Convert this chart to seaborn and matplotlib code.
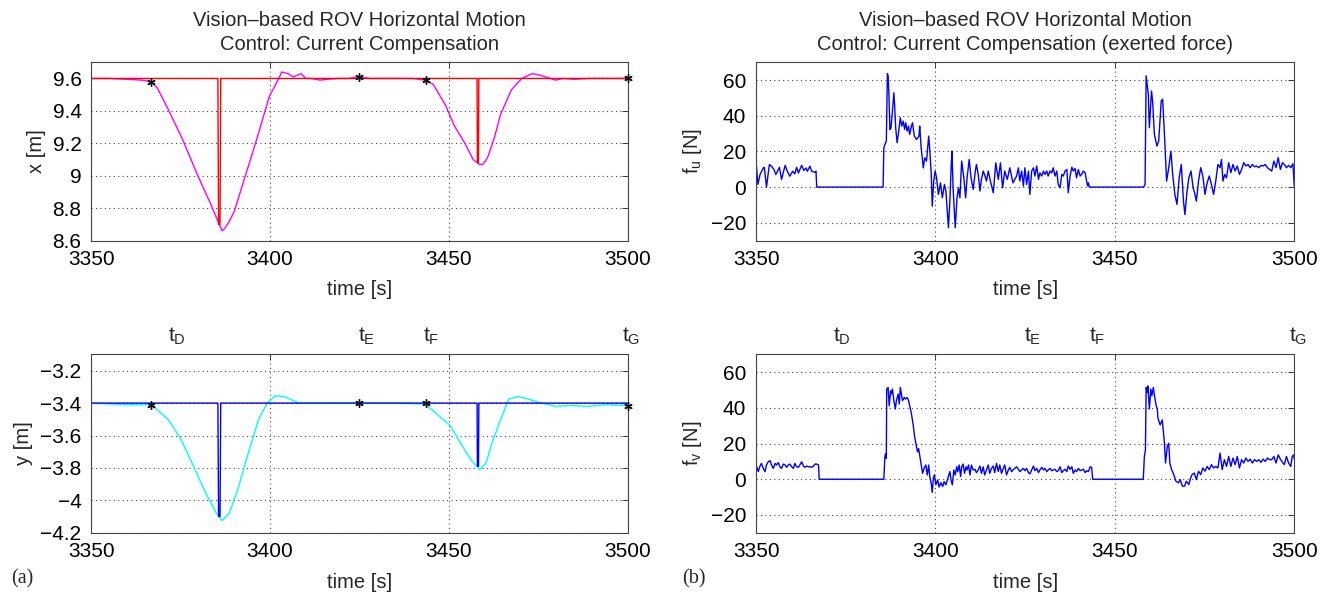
import matplotlib
matplotlib.use('Agg')
import matplotlib.pyplot as plt
import matplotlib.transforms as mtransforms
from matplotlib.ticker import FuncFormatter
import seaborn as sns

# ---- data ----
# event instants (black asterisks) and their top labels
event_t = [3366.8, 3425.0, 3443.5, 3500.0]
event_x = [9.58, 9.61, 9.59, 9.60]
event_y = [-3.41, -3.40, -3.40, -3.415]
label_t = [3374.0, 3427.0, 3445.0, 3501.0]
label_txt = ['t$_D$', 't$_E$', 't$_F$', 't$_G$']

# x position: measured (magenta) and desired (red)
xm_t = [3350, 3355, 3360, 3364, 3366.8, 3368.5, 3371.5, 3375.6, 3379.8, 3383.3, 3385.6, 3386.6,
        3387.5, 3388.6, 3390, 3392.1, 3396.2, 3399.8, 3401.5, 3403.3, 3405, 3406.5, 3408.7, 3410,
        3411.5, 3414, 3416, 3419, 3422, 3424.5, 3428, 3432, 3436, 3440, 3443.3, 3445.6, 3449.2,
        3451.5, 3454.5, 3456.8, 3458.6, 3459.5, 3460.2, 3461, 3462.8, 3464.5, 3467.5, 3470.4,
        3473.3, 3474.5, 3475.6, 3477, 3479.8, 3482, 3485, 3489, 3493, 3496, 3500]
xm_v = [9.6, 9.6, 9.595, 9.59, 9.58, 9.54, 9.41, 9.22, 9.0, 8.83, 8.71, 8.66,
        8.68, 8.72, 8.78, 8.93, 9.22, 9.49, 9.56, 9.64, 9.63, 9.61, 9.63, 9.6,
        9.6, 9.59, 9.595, 9.6, 9.6, 9.61, 9.6, 9.6, 9.6, 9.6, 9.59, 9.565, 9.43,
        9.31, 9.2, 9.1, 9.07, 9.07, 9.09, 9.12, 9.24, 9.38, 9.53, 9.6,
        9.63, 9.625, 9.62, 9.61, 9.59, 9.6, 9.595, 9.6, 9.6, 9.6, 9.6]
xd_t = [3350, 3385.4, 3385.6, 3386.0, 3386.2, 3457.9, 3458.0, 3458.3, 3458.4, 3500]
xd_v = [9.6, 9.6, 8.7, 8.7, 9.6, 9.6, 9.08, 9.08, 9.6, 9.6]

# y position: measured (cyan) and desired (blue)
ym_t = [3350, 3355, 3360, 3366.8, 3371.5, 3375, 3378.6, 3382.1, 3385, 3386.6, 3388.6, 3391,
        3393.9, 3396.8, 3399.2, 3401.5, 3403.9, 3405.6, 3408, 3415, 3425, 3435, 3443.3, 3446.8,
        3450.4, 3453.8, 3456.2, 3458.6, 3460.4, 3462.1, 3464.5, 3466.8, 3469.2, 3471.5, 3475,
        3479.8, 3484, 3489, 3494, 3500]
ym_v = [-3.4, -3.405, -3.41, -3.41, -3.5, -3.62, -3.79, -3.96, -4.08, -4.125, -4.08, -3.93,
        -3.71, -3.5, -3.4, -3.355, -3.36, -3.375, -3.4, -3.4, -3.4, -3.4, -3.405, -3.47,
        -3.54, -3.665, -3.75, -3.81, -3.77, -3.645, -3.5, -3.375, -3.36, -3.37, -3.395,
        -3.42, -3.415, -3.42, -3.41, -3.415]
yd_t = [3350, 3385.4, 3385.6, 3386.0, 3386.2, 3457.9, 3458.0, 3458.3, 3458.4, 3500]
yd_v = [-3.4, -3.4, -4.1, -4.1, -3.4, -3.4, -3.79, -3.79, -3.4, -3.4]

# exerted force f_u (time, N)
fu_pts = [
    (3350.0, 14.4), (3350.5, 1.5), (3351.1, 7.0), (3352.0, 10.7), (3352.3, 11.1), (3352.9, 0.0),
    (3353.7, 12.6), (3354.3, 11.7), (3355.0, 9.8), (3355.5, 7.0), (3356.5, 11.1), (3357.1, 4.3),
    (3358.1, 12.2), (3358.7, 8.9), (3359.4, 6.1), (3360.2, 8.9), (3360.8, 7.4), (3361.3, 11.1),
    (3361.8, 7.9), (3362.7, 12.2), (3363.3, 9.3), (3363.9, 10.7), (3364.3, 8.9), (3365.0, 11.7),
    (3365.5, 8.9), (3366.4, 8.3), (3366.7, 8.9), (3366.9, 0.0), (3385.4, 0.0),
    (3385.6, 22.1), (3386.1, 24.9), (3386.3, 25.8), (3386.6, 63.6), (3386.8, 62.2), (3387.0, 52.9),
    (3387.3, 32.3), (3387.6, 33.3), (3388.0, 42.6), (3388.4, 52.9), (3388.6, 46.4), (3388.9, 33.3),
    (3389.3, 24.9), (3389.7, 30.5), (3390.2, 38.9), (3390.6, 34.2), (3391.0, 37.0), (3391.4, 32.3),
    (3391.7, 36.1), (3392.1, 31.4), (3392.5, 34.2), (3392.8, 29.5), (3393.3, 34.2), (3393.6, 36.1),
    (3394.1, 28.6), (3394.7, 26.7), (3395.4, 28.6), (3395.6, 34.2), (3396.0, 22.1), (3396.6, 10.8),
    (3397.0, 16.4), (3397.5, 14.6), (3398.1, 28.6), (3398.4, 21.1), (3398.8, 8.0), (3399.1, -10.7),
    (3399.5, 3.4), (3399.9, 9.0), (3400.3, 5.2), (3400.8, -4.1), (3401.4, 2.4), (3401.9, -6.0),
    (3402.5, 1.5), (3402.9, -2.2), (3403.6, -22.8), (3404.0, -7.9), (3404.4, 12.7), (3404.6, 20.2),
    (3404.9, -0.4), (3405.5, -22.8), (3406.0, -6.0), (3406.4, -0.4), (3406.8, -6.0), (3407.3, 14.6),
    (3407.9, 5.2), (3408.4, -6.0), (3408.8, 5.2), (3409.4, 15.5), (3409.9, 5.2), (3410.5, -1.3),
    (3411.1, 9.0), (3411.4, 12.7), (3411.9, 7.1), (3412.4, -2.2), (3412.8, 4.3), (3413.3, 9.0),
    (3413.8, 6.2), (3414.2, 3.4), (3414.7, 9.0), (3415.3, 3.4), (3416.1, -3.2), (3416.8, 13.6),
    (3417.5, 4.3), (3418.1, 13.6), (3418.7, -0.4), (3419.3, 9.0), (3420.0, 4.3), (3420.7, 10.8),
    (3421.6, 2.4), (3422.6, 6.2), (3423.1, 10.8), (3423.5, 3.4), (3424.0, 9.0), (3424.5, 0.6),
    (3424.9, 10.8), (3425.4, 1.5), (3425.9, 9.0), (3426.3, -4.1), (3426.8, 9.0), (3427.3, 10.8),
    (3427.7, 6.2), (3428.2, 11.8), (3428.7, 4.3), (3429.1, 8.0), (3429.6, 6.2), (3430.1, 9.0),
    (3430.5, 7.1), (3431.0, 9.0), (3431.4, 6.2), (3431.9, 9.0), (3432.4, 8.0), (3432.8, 10.8),
    (3433.3, 6.2), (3433.8, 9.0), (3434.2, 1.5), (3434.7, -0.4), (3435.2, 7.1), (3435.6, 6.2),
    (3436.1, 9.0), (3436.6, 9.9), (3437.0, -3.2), (3437.5, 6.2), (3438.0, 11.2), (3438.4, 9.0),
    (3438.9, 10.5), (3439.3, 5.2), (3439.8, 9.9), (3440.3, 6.2), (3440.7, 7.1), (3441.2, 9.0),
    (3441.7, 8.0), (3442.1, 3.4), (3442.4, 0.6), (3442.6, 2.4), (3442.9, 0.0), (3458.0, 0.0),
    (3458.4, 1.5), (3458.7, 62.4), (3459.3, 52.1), (3459.6, 33.3), (3460.2, 53.9), (3460.5, 48.3),
    (3461.0, 29.6), (3461.7, 23.0), (3462.2, 25.8), (3462.9, 48.3), (3463.3, 49.3), (3463.8, 29.6),
    (3464.4, 3.4), (3465.0, 10.9), (3465.6, 20.2), (3466.1, 7.1), (3466.7, -4.1), (3467.3, -9.7),
    (3467.9, 5.2), (3468.5, 12.7), (3469.1, -7.9), (3469.5, -15.4), (3470.1, -2.2), (3470.6, 5.2),
    (3471.2, 9.0), (3471.8, -0.4), (3472.2, -3.2), (3472.7, -7.9), (3473.3, 3.4), (3473.9, 10.9),
    (3474.5, 6.2), (3475.1, -4.1), (3475.7, 2.4), (3476.3, 6.2), (3476.9, 1.5), (3477.5, -4.1),
    (3478.1, 3.4), (3478.7, 12.7), (3479.3, 10.9), (3479.7, 15.5), (3480.1, 3.4), (3480.6, 7.1),
    (3481.1, 5.2), (3481.7, 13.7), (3482.3, 8.1), (3482.9, 12.7), (3483.5, 9.0), (3484.1, 11.8),
    (3484.7, 7.1), (3485.3, 9.9), (3485.9, 13.7), (3486.5, 11.8), (3487.1, 12.7), (3487.7, 10.9),
    (3488.3, 12.7), (3488.9, 11.4), (3489.5, 11.8), (3490.1, 10.9), (3490.7, 12.2), (3491.3, 11.8),
    (3491.9, 12.7), (3492.5, 10.9), (3493.1, 9.9), (3493.7, 9.0), (3494.3, 14.6), (3494.9, 10.9),
    (3495.5, 16.5), (3496.1, 9.9), (3496.7, 13.7), (3497.2, 12.7), (3497.8, 10.9), (3498.4, 12.2),
    (3499.0, 10.9), (3499.6, 13.1), (3500.0, 0.0),
]

# exerted force f_v (time, N)
fv_pts = [
    (3350.2, 7.0), (3350.6, 4.3), (3351.1, 7.4), (3351.5, 8.9), (3352.0, 6.1), (3352.5, 4.3),
    (3352.9, 8.0), (3353.4, 9.8), (3353.9, 10.4), (3354.3, 8.0), (3354.8, 6.1), (3355.3, 8.9),
    (3355.7, 8.0), (3356.2, 9.3), (3356.7, 6.7), (3357.1, 6.1), (3357.6, 8.5), (3358.1, 8.0),
    (3358.5, 6.7), (3359.0, 8.0), (3359.4, 8.5), (3359.9, 7.0), (3360.4, 6.1), (3360.8, 8.9),
    (3361.3, 7.0), (3361.8, 6.7), (3362.2, 8.0), (3362.7, 9.8), (3363.2, 7.4), (3363.6, 6.7),
    (3364.1, 7.4), (3364.6, 7.0), (3365.0, 7.0), (3365.5, 6.7), (3366.0, 7.4), (3366.4, 8.5),
    (3366.9, 8.5), (3367.4, 8.0), (3367.6, 0.0), (3385.6, 0.0),
    (3385.9, 12.6), (3386.1, 14.4), (3386.3, 11.7), (3386.4, 50.6), (3386.8, 51.5), (3387.1, 41.3),
    (3387.5, 49.6), (3387.7, 47.8), (3388.0, 50.6), (3388.4, 44.1), (3388.8, 39.4), (3389.1, 44.1),
    (3389.6, 47.8), (3389.9, 42.2), (3390.2, 51.5), (3390.5, 47.8), (3390.8, 44.1), (3391.3, 45.9),
    (3391.6, 45.0), (3392.1, 45.9), (3392.5, 44.1), (3392.8, 41.3), (3393.3, 36.7), (3393.8, 30.2),
    (3394.2, 23.7), (3394.7, 18.1), (3395.0, 15.4), (3395.3, 17.2), (3395.6, 13.5), (3396.0, 8.9),
    (3396.4, 3.3), (3396.8, 6.1), (3397.3, 8.0), (3397.7, 2.4), (3398.1, 8.0), (3398.4, 1.5),
    (3398.8, -2.2), (3399.1, -7.4), (3399.4, 0.6), (3399.7, 2.4), (3400.1, -3.1), (3400.6, -0.4),
    (3401.0, -4.4), (3401.5, -1.9), (3402.0, -4.1), (3402.4, -1.3), (3402.9, -3.1), (3403.3, -0.4),
    (3403.6, 1.5), (3404.0, 4.3), (3404.4, -1.3), (3404.7, -3.1), (3405.1, 5.2), (3405.5, 2.4),
    (3405.9, 7.0), (3406.2, 4.3), (3406.6, 8.0), (3407.0, 1.5), (3407.3, 7.0), (3407.7, 8.5),
    (3408.1, 3.3), (3408.5, 7.0), (3408.8, 5.2), (3409.2, 8.0), (3409.6, 2.4), (3410.0, 8.0),
    (3410.5, 5.2), (3411.0, 5.6), (3411.4, 3.7), (3411.9, 5.2), (3412.4, 7.4), (3412.8, 3.3),
    (3413.3, 7.0), (3413.7, 2.4), (3414.2, 5.2), (3414.7, 8.0), (3415.1, 3.3), (3415.6, 6.1),
    (3416.1, 7.4), (3416.5, 3.7), (3417.0, 8.9), (3417.5, 4.3), (3417.9, 8.0), (3418.4, 3.3),
    (3418.9, 6.1), (3419.3, 8.0), (3419.8, 2.4), (3420.3, 5.2), (3420.7, 6.7), (3421.2, 4.3),
    (3421.6, 5.2), (3422.1, 6.1), (3422.6, 7.0), (3423.1, 5.6), (3423.5, 4.3), (3424.0, 5.2),
    (3424.5, 6.1), (3424.9, 4.8), (3425.4, 6.1), (3425.9, 3.7), (3426.3, 3.0), (3426.8, 5.2),
    (3427.3, 7.4), (3427.7, 4.8), (3428.2, 6.1), (3428.7, 3.7), (3429.1, 5.2), (3429.6, 6.7),
    (3430.1, 5.2), (3430.5, 6.1), (3431.0, 4.3), (3431.4, 5.2), (3431.9, 6.1), (3432.4, 4.8),
    (3432.8, 5.2), (3433.3, 5.6), (3433.8, 4.3), (3434.2, 4.8), (3434.7, 7.0), (3435.2, 3.7),
    (3435.6, 4.8), (3436.1, 5.6), (3436.6, 4.3), (3437.0, 7.4), (3437.5, 5.6), (3438.0, 7.0),
    (3438.4, 3.3), (3438.9, 5.2), (3439.3, 4.3), (3439.8, 6.1), (3440.3, 4.8), (3440.7, 5.2),
    (3441.2, 5.6), (3441.7, 3.7), (3442.1, 4.8), (3442.6, 4.3), (3443.1, 7.0), (3443.5, 6.7),
    (3443.8, 0.0), (3457.9, 0.0), (3458.2, 12.6), (3458.5, 16.3), (3458.7, 51.5), (3459.0, 48.7),
    (3459.2, 52.4), (3459.6, 39.4), (3460.0, 50.6), (3460.3, 46.9), (3460.7, 51.5), (3461.1, 45.9),
    (3461.5, 41.3), (3461.8, 39.4), (3462.0, 34.2), (3462.6, 30.5), (3463.2, 33.3), (3463.8, 20.2),
    (3464.1, 9.1), (3464.6, 18.4), (3465.0, 20.2), (3465.3, 9.1), (3465.8, 5.4), (3466.4, 2.6),
    (3467.0, -1.1), (3467.7, -2.0), (3468.2, -0.2), (3468.8, -3.9), (3469.4, -3.9), (3469.9, -1.1),
    (3470.6, -3.0), (3471.1, 0.7), (3471.5, 2.6), (3472.1, 3.5), (3472.7, -0.2), (3473.3, 4.5),
    (3473.9, 2.6), (3474.5, 6.3), (3475.1, 4.5), (3475.7, 7.2), (3476.3, 5.4), (3476.9, 8.2),
    (3477.5, 6.3), (3478.1, 7.2), (3478.7, 6.3), (3479.3, 14.7), (3479.9, 5.4), (3480.5, 11.0),
    (3481.1, 7.2), (3481.7, 12.8), (3482.3, 7.2), (3482.9, 11.9), (3483.5, 8.2), (3484.1, 12.8),
    (3484.7, 6.3), (3485.3, 11.0), (3485.9, 9.1), (3486.5, 11.9), (3487.1, 10.0), (3487.7, 11.3),
    (3488.3, 9.1), (3488.9, 11.0), (3489.5, 10.0), (3490.1, 11.0), (3490.7, 9.5), (3491.3, 11.3),
    (3491.9, 10.0), (3492.5, 11.9), (3493.1, 11.0), (3493.7, 11.0), (3494.3, 12.8), (3494.9, 9.1),
    (3495.5, 13.7), (3496.1, 11.3), (3496.7, 9.5), (3497.2, 8.2), (3497.8, 12.8), (3498.4, 9.1),
    (3499.0, 7.2), (3499.4, 12.8), (3499.8, 13.7), (3500.0, 11.0),
]

xticks = [3350, 3400, 3450, 3500]

# ---- style ----
sns.set_theme(style='white')
plt.rcParams['font.family'] = ['Liberation Sans', 'DejaVu Sans']
plt.rcParams['mathtext.default'] = 'regular'

FS = 14.5
TS = 15
fig = plt.figure(figsize=(13.33, 5.97), dpi=100)
ax_x = fig.add_axes([0.0685, 0.597, 0.4023, 0.2987])
ax_y = fig.add_axes([0.0685, 0.1077, 0.4023, 0.2985])
ax_fu = fig.add_axes([0.5672, 0.597, 0.4038, 0.2987])
ax_fv = fig.add_axes([0.5672, 0.1077, 0.4038, 0.2985])


def style_axes(ax, ylim, yticks, ylabel):
    ax.set_xlim(3350, 3500)
    ax.set_ylim(*ylim)
    ax.set_xticks(xticks)
    ax.set_yticks(yticks)
    ax.yaxis.set_major_formatter(FuncFormatter(lambda v, p: f'{v:g}'.replace('-', '\u2212')))
    ax.tick_params(direction='in', top=True, right=True, length=4, width=0.6,
                   labelsize=TS, colors='#222222', labelcolor='black', pad=7)
    ax.grid(True, color='#444444', linestyle=(0, (1, 3)), linewidth=0.8)
    for s in ax.spines.values():
        s.set_color('#444444')
        s.set_linewidth(0.8)
    ax.set_xlabel('time [s]', fontsize=FS, labelpad=8)
    ax.set_ylabel(ylabel, fontsize=FS, labelpad=5)


# x plot
sns.lineplot(x=xm_t, y=xm_v, ax=ax_x, color='#ff00ff', lw=1.0, sort=False, estimator=None)
sns.lineplot(x=xd_t, y=xd_v, ax=ax_x, color='#ff0000', lw=1.0, sort=False, estimator=None)
ax_x.plot(event_t, event_x, linestyle='none', marker=(6, 2, 0), ms=6, mew=1.0,
          color='#111111', clip_on=False, zorder=5)
style_axes(ax_x, (8.6, 9.7), [8.6, 8.8, 9.0, 9.2, 9.4, 9.6], 'x [m]')
ax_x.set_title('Vision\u2013based ROV Horizontal Motion\nControl: Current Compensation',
               fontsize=FS, pad=9, linespacing=1.3)

# y plot
sns.lineplot(x=ym_t, y=ym_v, ax=ax_y, color='#00ffff', lw=1.0, sort=False, estimator=None)
sns.lineplot(x=yd_t, y=yd_v, ax=ax_y, color='#0000ff', lw=1.0, sort=False, estimator=None)
ax_y.plot(event_t, event_y, linestyle='none', marker=(6, 2, 0), ms=6, mew=1.0,
          color='#111111', clip_on=False, zorder=5)
style_axes(ax_y, (-4.2, -3.1), [-4.2, -4.0, -3.8, -3.6, -3.4, -3.2], 'y [m]')

# forces
fu_t, fu_v = zip(*fu_pts)
fv_t, fv_v = zip(*fv_pts)
sns.lineplot(x=list(fu_t), y=list(fu_v), ax=ax_fu, color='#0000ff', lw=1.0, sort=False, estimator=None)
style_axes(ax_fu, (-30, 70), [-20, 0, 20, 40, 60], 'f$_u$ [N]')
ax_fu.set_title('Vision\u2013based ROV Horizontal Motion\nControl: Current Compensation (exerted force)',
                fontsize=FS, pad=9, linespacing=1.3)

sns.lineplot(x=list(fv_t), y=list(fv_v), ax=ax_fv, color='#0000ff', lw=1.0, sort=False, estimator=None)
style_axes(ax_fv, (-30, 70), [-20, 0, 20, 40, 60], 'f$_v$ [N]')

# event labels above the lower panels
for ax in (ax_y, ax_fv):
    trans = mtransforms.blended_transform_factory(ax.transData, ax.transAxes)
    for t, s in zip(label_t, label_txt):
        ax.text(t, 1.1, s, transform=trans, ha='center', va='center', fontsize=TS)

fig.text(0.008, 0.022, '(a)', fontsize=FS, family=['Liberation Serif', 'DejaVu Serif'])
fig.text(0.512, 0.022, '(b)', fontsize=FS, family=['Liberation Serif', 'DejaVu Serif'])

fig.savefig('out.png', dpi=100)
